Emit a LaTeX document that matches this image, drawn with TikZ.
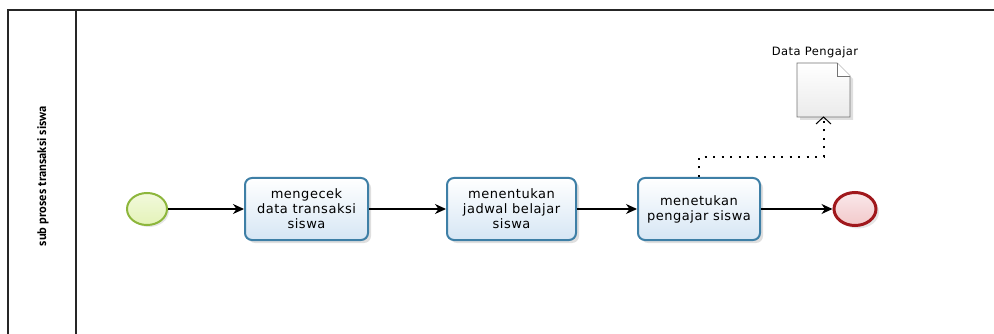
\documentclass[tikz,border=0pt]{standalone}
\usepackage{fontspec}
\setmainfont{DejaVu Sans}
\newfontfamily\taskfont[LetterSpace=4]{DejaVu Sans}
\newfontfamily\lanefont{PT Sans}
\usetikzlibrary{arrows.meta,shapes.geometric,shadows,positioning}
\definecolor{taskborder}{HTML}{3E7FA6}
\definecolor{taskfill}{HTML}{D6E6F4}
\definecolor{startborder}{HTML}{8DB63C}
\definecolor{startfill}{HTML}{E4F3B8}
\definecolor{endborder}{HTML}{A0181C}
\definecolor{endfill}{HTML}{F2C8CA}
\tikzset{
  taskbox/.style={draw=taskborder, line width=2pt, rounded corners=7pt,
    top color=white, bottom color=taskfill, align=center,
    minimum height=62pt, inner sep=2pt,
    font=\taskfont\fontsize{13}{15}\selectfont,
    drop shadow={shadow xshift=3pt, shadow yshift=-3pt, opacity=0.25, fill=gray}},
  startev/.style={ellipse, draw=startborder, line width=2pt, minimum width=40pt, minimum height=32pt,
    inner sep=0pt, top color=white!50!startfill, bottom color=startfill,
    drop shadow={shadow xshift=2pt, shadow yshift=-2pt, opacity=0.2, fill=gray}},
  endev/.style={ellipse, draw=endborder, line width=3pt, minimum width=42pt, minimum height=33pt,
    inner sep=0pt, top color=white!60!endfill, bottom color=endfill,
    drop shadow={shadow xshift=3pt, shadow yshift=-3pt, opacity=0.2, fill=gray}},
  flow/.style={draw=black, line width=1.1pt, -{Stealth[length=11pt,width=10pt,inset=3.5pt]}},
  assoc/.style={draw=black, line width=2pt, dash pattern=on 2pt off 6.5pt},
  lane/.style={draw=black!85, line width=1.2pt},
}
\begin{document}
\begin{tikzpicture}[x=1pt,y=-1pt]
\useasboundingbox (0,0) rectangle (994,334);
% pool / lane
\draw[lane] (994,10) -- (8,10) -- (8,334);
\draw[lane] (76,10) -- (76,334);
\node[rotate=90, font=\lanefont\bfseries\fontsize{12.5}{14}\selectfont] (lanelabel) at (43,176) {sub proses transaksi siswa};

% events and tasks
\node[startev] (start) at (147,209) {};
\node[taskbox, minimum width=123pt] (t1) at (306.5,209) {mengecek\\data transaksi\\siswa};
\node[taskbox, minimum width=129pt] (t2) at (511.5,209) {menentukan\\jadwal belajar\\siswa};
\node[taskbox, minimum width=122pt] (t3) at (699,209) {menetukan\\pengajar siswa};
\node[endev] (end) at (855,209) {};

% data object
\path[fill=gray, opacity=0.25] (800,66) -- (840,66) -- (853,79) -- (853,120) -- (800,120) -- cycle;
\draw[draw=black!55, line width=0.8pt, top color=white, bottom color=black!8]
  (797,63) -- (837,63) -- (850,76) -- (850,117) -- (797,117) -- cycle;
\draw[draw=black!55, line width=0.8pt, fill=white] (837,63) -- (837,76) -- (850,76);
\coordinate (data) at (823.5,117);
\node[font=\taskfont\fontsize{11.5}{13}\selectfont] (datalabel) at (815,52) {Data Pengajar};

% flows
\draw[flow] (start) -- (t1);
\draw[flow] (t1) -- (t2);
\draw[flow] (t2) -- (t3);
\draw[flow] (t3) -- (end);

% association
\coordinate (a1) at (t3.north);
\coordinate (a2) at (699,157);
\coordinate (a3) at (823.5,157);
\draw[assoc] (a1) -- (a2) -- (a3) -- (data);
\draw[draw=black, line width=1pt] (816,124) -- (data) -- (831,124);
\end{tikzpicture}
\end{document}
